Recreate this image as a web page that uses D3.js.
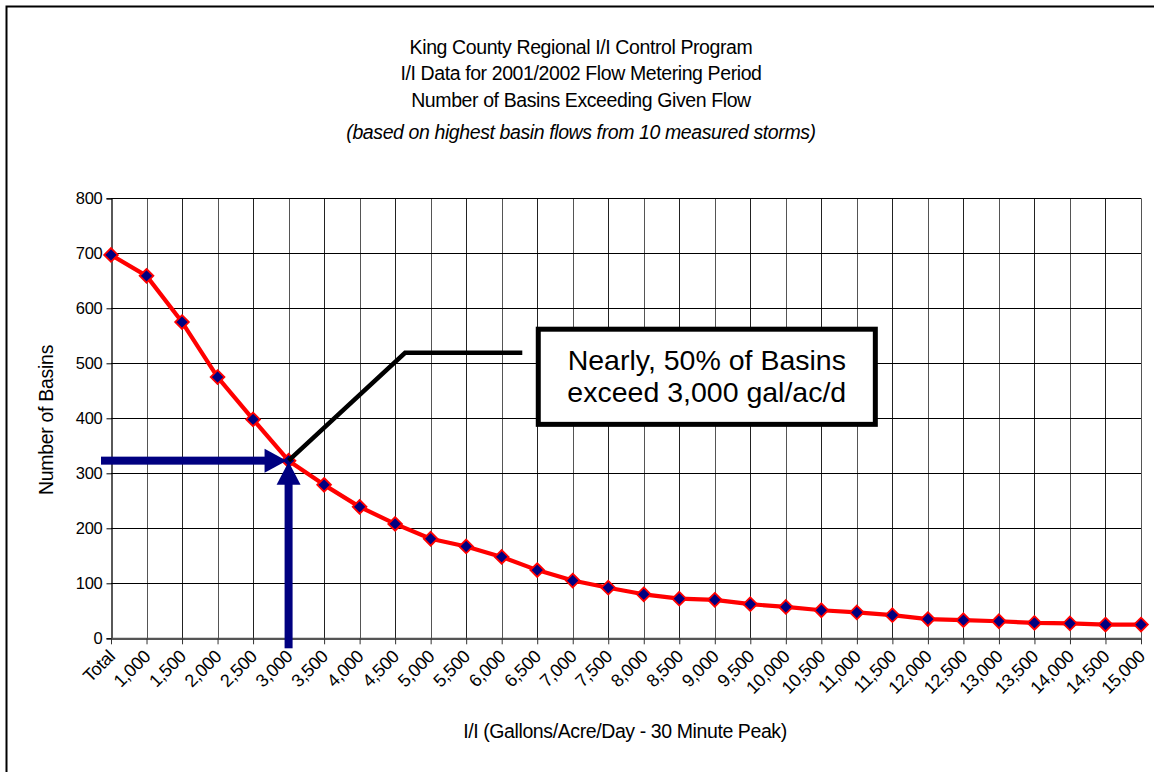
<!DOCTYPE html>
<html><head><meta charset="utf-8">
<script src="https://cdn.jsdelivr.net/npm/d3@7"></script>
<style>
html,body{margin:0;padding:0;background:#fff;}
svg{display:block;font-family:"Liberation Sans",Arial,sans-serif;}
</style></head>
<body><svg id="c" width="1154" height="772"></svg>
<script>
const categories = ["Total","1,000","1,500","2,000","2,500","3,000","3,500","4,000","4,500","5,000","5,500","6,000","6,500","7,000","7,500","8,000","8,500","9,000","9,500","10,000","10,500","11,000","11,500","12,000","12,500","13,000","13,500","14,000","14,500","15,000"];
const basins = [697,659,575,475,398,323,279,239,208,181,167,148,124,105,92,80,72,70,62,57,51,47,42,35,33,31,28,27,25,25];
const yTicks = [0,100,200,300,400,500,600,700,800];
const titleLines = ["King County Regional I/I Control Program","I/I Data for 2001/2002 Flow Metering Period","Number of Basins Exceeding Given Flow"];
const subtitle = "(based on highest basin flows from 10 measured storms)";
const xTitle = "I/I (Gallons/Acre/Day - 30 Minute Peak)";
const yTitle = "Number of Basins";
const calloutLines = ["Nearly, 50% of Basins","exceed 3,000 gal/ac/d"];
// annotation anchors in data units (category index, basins)
const targetIdx = 5, targetVal = 323;
const elbow = {i: 8.28, v: 519};
const leaderEnd = {i: 11.58, v: 519};
const box = {i0: 12.03, i1: 21.52, v0: 562, v1: 389};

const svg = d3.select("#c");
const W = 1154, H = 772;
const X0 = 111, X1 = 1141, Y0 = 638.3, Y1 = 198.3;

// outer frame
svg.append("rect").attr("x",6.5).attr("y",6.5).attr("width",W+20).attr("height",H+20)
  .attr("fill","none").attr("stroke","#000").attr("stroke-width",2);

const x = d3.scalePoint().domain(categories).range([X0,X1]);
const xi = d3.scaleLinear().domain([0,categories.length-1]).range([X0,X1]);
const y = d3.scaleLinear().domain([0,800]).range([Y0,Y1]);

// grid
const g = svg.append("g");
g.selectAll("line.vg").data(categories.slice(1)).enter().append("line")
  .attr("x1",d=>Math.round(x(d))+0.5).attr("x2",d=>Math.round(x(d))+0.5)
  .attr("y1",y(800)).attr("y2",y(0)).attr("stroke",(d,i)=>i%2?"#222":"#555").attr("stroke-width",1);
g.selectAll("line.hg").data(yTicks.slice(1)).enter().append("line")
  .attr("x1",X0).attr("x2",X1).attr("y1",d=>Math.round(y(d))+0.5).attr("y2",d=>Math.round(y(d))+0.5)
  .attr("stroke","#000").attr("stroke-width",1);

// axes
const yAxis = svg.append("g").attr("transform",`translate(${Math.round(X0)+0.5},0)`)
  .call(d3.axisLeft(y).tickValues(yTicks).tickSize(5).tickPadding(4).tickFormat(d3.format("d")));
yAxis.select(".domain").attr("stroke","#000").attr("stroke-width",1.3);
yAxis.selectAll(".tick line").attr("stroke","#000");
yAxis.selectAll("text").attr("font-size","16.5px").attr("letter-spacing","-0.3px").attr("fill","#000").attr("font-family","Liberation Sans, Arial, sans-serif");

const xAxis = svg.append("g").attr("transform",`translate(0,${Y0})`)
  .call(d3.axisBottom(x).tickSize(6).tickSizeOuter(0));
xAxis.select(".domain").attr("stroke","#555").attr("stroke-width",2.2);
xAxis.selectAll(".tick line").attr("stroke","#333");
xAxis.selectAll("text").attr("font-size","18px").attr("letter-spacing","-0.4px").attr("fill","#000")
  .attr("font-family","Liberation Sans, Arial, sans-serif")
  .attr("text-anchor","end").attr("dy",null).attr("y",null)
  .attr("transform","translate(0,15) rotate(-45)").attr("dy","0.35em");

// series
const line = d3.line().x((d,i)=>x(categories[i])).y(d=>y(d));
svg.append("path").datum(basins).attr("d",line).attr("fill","none")
  .attr("stroke","#ff0000").attr("stroke-width",4.2).attr("stroke-linejoin","round");
const sym = d3.symbol().type(d3.symbolDiamond2).size(120);
svg.selectAll("path.mk").data(basins).enter().append("path")
  .attr("transform",(d,i)=>`translate(${x(categories[i])},${y(d)})`)
  .attr("d",sym).attr("fill","#000080").attr("stroke","#ff0000").attr("stroke-width",1.8);

// leader line
const tx = x(categories[targetIdx]), ty = y(targetVal);
svg.append("path").attr("d",d3.line()([[tx,ty],[xi(elbow.i),y(elbow.v)],[xi(leaderEnd.i),y(leaderEnd.v)]]))
  .attr("fill","none").attr("stroke","#000").attr("stroke-width",4.5);

// navy arrows
const navy = "#000080";
const hx0 = X0 - 10;
svg.append("rect").attr("x",hx0).attr("y",ty-4).attr("width",tx-22-hx0).attr("height",8).attr("fill",navy);
svg.append("path").attr("d",`M${tx-2},${ty} L${tx-24},${ty-12} L${tx-24},${ty+12} Z`).attr("fill",navy);
const vy1 = Y0 + 10;
svg.append("rect").attr("x",tx-4).attr("y",ty+22).attr("width",8).attr("height",vy1-ty-22).attr("fill",navy);
svg.append("path").attr("d",`M${tx},${ty+1} L${tx-12},${ty+24} L${tx+12},${ty+24} Z`).attr("fill",navy);

// callout box
const bx0 = xi(box.i0), bx1 = xi(box.i1), by0 = y(box.v0), by1 = y(box.v1);
svg.append("rect").attr("x",bx0).attr("y",by0).attr("width",bx1-bx0).attr("height",by1-by0)
  .attr("fill","#fff").attr("stroke","#000").attr("stroke-width",5);
svg.append("g").selectAll("text").data(calloutLines).enter().append("text")
  .attr("x",(bx0+bx1)/2).attr("y",(d,i)=>by0+41+i*31.5).attr("text-anchor","middle")
  .attr("font-size","28.5px").attr("fill","#000").text(d=>d);

// titles
const cx = 581;
svg.append("g").selectAll("text").data(titleLines).enter().append("text")
  .attr("x",cx).attr("y",(d,i)=>54+i*26.3).attr("text-anchor","middle")
  .attr("font-size","19.5px").attr("letter-spacing","-0.4px").attr("fill","#000").text(d=>d);
svg.append("text").attr("x",cx).attr("y",54+3*26.3+6).attr("text-anchor","middle")
  .attr("font-size","19.5px").attr("letter-spacing","-0.4px").attr("font-style","italic").attr("fill","#000").text(subtitle);

svg.append("text").attr("x",(X0+X1)/2 - 1).attr("y",738).attr("text-anchor","middle")
  .attr("font-size","19.5px").attr("letter-spacing","-0.4px").attr("fill","#000").text(xTitle);
svg.append("text").attr("transform","translate(53,420) rotate(-90)").attr("text-anchor","middle")
  .attr("font-size","19.5px").attr("letter-spacing","-0.3px").attr("fill","#000").text(yTitle);
</script></body></html>
